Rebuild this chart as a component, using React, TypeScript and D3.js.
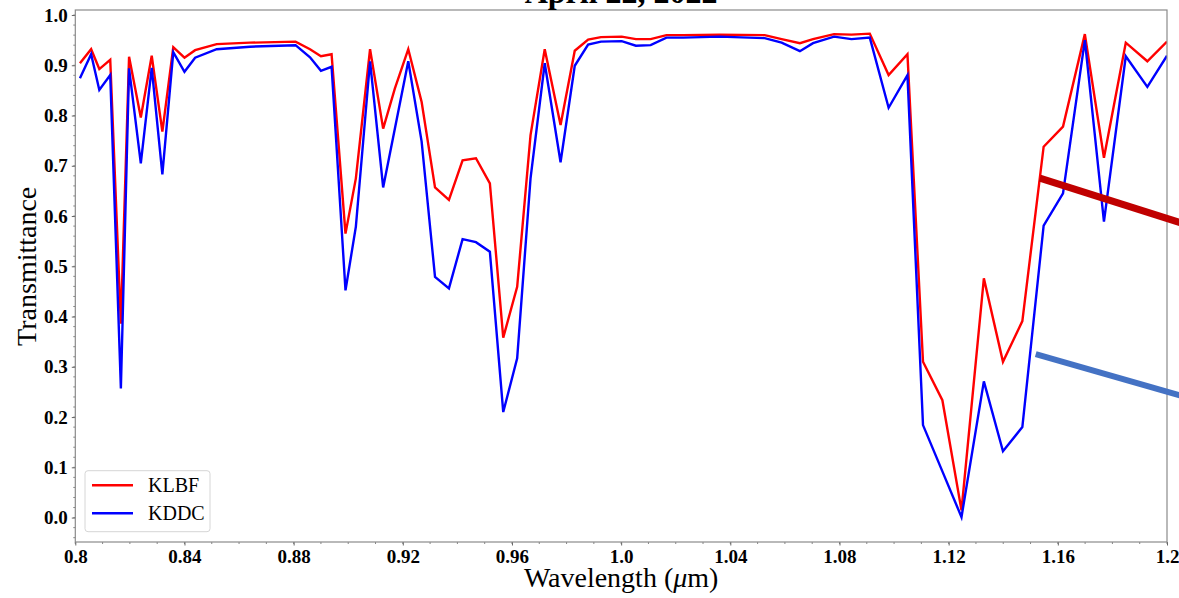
import React, { useRef, useEffect } from 'react';
import * as d3 from 'd3';

const wavelengths = [
  0.8017, 0.8058, 0.8088, 0.8128, 0.8167, 0.8197, 0.824, 0.828, 0.8319, 0.8359,
  0.84, 0.8439, 0.8518, 0.864, 0.8807, 0.886, 0.89, 0.8939, 0.899, 0.9028,
  0.908, 0.9128, 0.9171, 0.922, 0.9269, 0.9318, 0.9369, 0.9419, 0.9468, 0.9519,
  0.9568, 0.9619, 0.9668, 0.972, 0.9778, 0.983, 0.9879, 0.9926, 1.0002, 1.0054,
  1.0108, 1.0166, 1.0227, 1.036, 1.0526, 1.0588, 1.0655, 1.0703, 1.078, 1.0844,
  1.0911, 1.098, 1.1049, 1.1106, 1.1177, 1.1247, 1.1329, 1.1399, 1.147, 1.1548,
  1.1619, 1.1699, 1.1769, 1.1849, 1.1928, 1.2,
];

const klbf = [
  0.904, 0.932, 0.8925, 0.911, 0.386, 0.917, 0.796, 0.919, 0.768, 0.936,
  0.915, 0.93, 0.942, 0.945, 0.947, 0.932, 0.918, 0.922, 0.565, 0.675,
  0.932, 0.774, 0.854, 0.932, 0.827, 0.657, 0.632, 0.711, 0.715, 0.665,
  0.358, 0.459, 0.761, 0.932, 0.781, 0.929, 0.951, 0.956, 0.957, 0.952,
  0.952, 0.96, 0.96, 0.961, 0.96, 0.952, 0.944, 0.952, 0.962, 0.961,
  0.963, 0.8805, 0.922, 0.31, 0.2335, 0.0145, 0.476, 0.31, 0.391, 0.738,
  0.778, 0.962, 0.716, 0.945, 0.908, 0.947,
];

const kddc = [
  0.874, 0.922, 0.851, 0.8805, 0.257, 0.894, 0.705, 0.895, 0.683, 0.926,
  0.887, 0.915, 0.932, 0.937, 0.94, 0.916, 0.889, 0.897, 0.452, 0.579,
  0.908, 0.657, 0.774, 0.908, 0.748, 0.479, 0.456, 0.554, 0.548, 0.529,
  0.21, 0.317, 0.675, 0.904, 0.707, 0.899, 0.941, 0.947, 0.948, 0.939,
  0.94, 0.955, 0.955, 0.957, 0.954, 0.945, 0.928, 0.944, 0.957, 0.952,
  0.955, 0.8155, 0.8805, 0.184, 0.092, 0.001, 0.271, 0.132, 0.18, 0.581,
  0.645, 0.95, 0.589, 0.918, 0.857, 0.919,
];

const seriesNames = ['KLBF', 'KDDC'];
const seriesColors = ['#ff0000', '#0000ff'];

const xTickLabels = ['0.8', '0.84', '0.88', '0.92', '0.96', '1.0', '1.04', '1.08', '1.12', '1.16', '1.2'];
const yTickLabels = ['0.0', '0.1', '0.2', '0.3', '0.4', '0.5', '0.6', '0.7', '0.8', '0.9', '1.0'];

// thick overlay strokes on the right side (start/end in data units)
const overlays = [
  { x1: 1.1534, y1: 0.6755, x2: 1.21, y2: 0.578, color: '#c00000', width: 7 },
  { x1: 1.1519, y1: 0.3254, x2: 1.21, y2: 0.2349, color: '#4472c4', width: 6 },
];

const W = 1179;
const H = 598;
const margin = { top: 10, right: 12, bottom: 56, left: 75.3 };
const FONT = '"Liberation Serif", "Times New Roman", serif';

function App() {
  const svgRef = useRef<SVGSVGElement | null>(null);

  useEffect(() => {
    const svgEl = d3.select(svgRef.current);
    svgEl.selectAll('*').remove();

    const width = W - margin.left - margin.right;
    const height = H - margin.top - margin.bottom;

    const xScale = d3.scaleLinear().domain([0.8, 1.2]).range([0, width]);
    const yScale = d3.scaleLinear().domain([-0.0486, 1.01]).range([height, 0]);

    const svg = svgEl.append('g').attr('transform', `translate(${margin.left},${margin.top})`);

    svg.append('clipPath').attr('id', 'plot-clip')
      .append('rect').attr('width', width).attr('height', height);

    // minor ticks
    const xMinor = d3.range(80, 121).map((v) => v / 100);
    svg.append('g').selectAll('line').data(xMinor).enter().append('line')
      .attr('x1', (d) => xScale(d)).attr('x2', (d) => xScale(d))
      .attr('y1', height).attr('y2', height + 2)
      .attr('stroke', '#666').attr('stroke-width', 0.8);

    const yMinor = d3.range(-2, 51).map((v) => v / 50);
    svg.append('g').selectAll('line').data(yMinor).enter().append('line')
      .attr('y1', (d) => yScale(d)).attr('y2', (d) => yScale(d))
      .attr('x1', 0).attr('x2', -2)
      .attr('stroke', '#666').attr('stroke-width', 0.8);

    // major x axis
    const xAxis = d3.axisBottom(xScale)
      .tickValues(xTickLabels.map(Number))
      .tickSize(3.5)
      .tickPadding(4)
      .tickFormat((d, i) => xTickLabels[i]);
    const xAxisGroup = svg.append('g').attr('transform', `translate(0, ${height})`).call(xAxis);
    xAxisGroup.select('.domain').remove();
    xAxisGroup.selectAll('line').attr('stroke', '#666').attr('stroke-width', 1);
    xAxisGroup.selectAll('text')
      .attr('font-family', FONT).attr('font-size', 19).attr('font-weight', 'bold').attr('fill', '#000');

    const yAxis = d3.axisLeft(yScale)
      .tickValues(yTickLabels.map(Number))
      .tickSize(3.5)
      .tickPadding(4)
      .tickFormat((d, i) => yTickLabels[i]);
    const yAxisGroup = svg.append('g').call(yAxis);
    yAxisGroup.select('.domain').remove();
    yAxisGroup.selectAll('line').attr('stroke', '#666').attr('stroke-width', 1);
    yAxisGroup.selectAll('text')
      .attr('font-family', FONT).attr('font-size', 19).attr('font-weight', 'bold').attr('fill', '#000');

    // series lines
    const line = d3.line<number>()
      .x((d, i) => xScale(wavelengths[i]))
      .y((d) => yScale(d));

    svg.append('g').attr('clip-path', 'url(#plot-clip)')
      .selectAll('path')
      .data([klbf, kddc])
      .enter()
      .append('path')
      .attr('fill', 'none')
      .attr('stroke', (d, i) => seriesColors[i])
      .attr('stroke-width', 2.4)
      .attr('stroke-linejoin', 'miter')
      .attr('d', (d) => line(d));

    // frame
    svg.append('rect')
      .attr('width', width).attr('height', height)
      .attr('fill', 'none').attr('stroke', '#8a8a8a').attr('stroke-width', 1.2);

    // legend
    const lg = svg.append('g').attr('transform', `translate(${85 - margin.left}, ${470.7 - margin.top})`);
    lg.append('rect')
      .attr('width', 125).attr('height', 61).attr('rx', 3)
      .attr('fill', '#fff').attr('fill-opacity', 0.8)
      .attr('stroke', '#d6d6d6').attr('stroke-width', 1);
    seriesNames.forEach((name, i) => {
      const yy = 14.6 + i * 28;
      lg.append('line')
        .attr('x1', 7).attr('x2', 48).attr('y1', yy).attr('y2', yy)
        .attr('stroke', seriesColors[i]).attr('stroke-width', 2.4);
      lg.append('text')
        .attr('x', 63).attr('y', yy).attr('dy', '0.35em')
        .attr('font-family', FONT).attr('font-size', 20).attr('fill', '#000')
        .text(name);
    });

    // overlay strokes
    svg.append('g').selectAll('line').data(overlays).enter().append('line')
      .attr('x1', (d) => xScale(d.x1)).attr('y1', (d) => yScale(d.y1))
      .attr('x2', (d) => xScale(d.x2)).attr('y2', (d) => yScale(d.y2))
      .attr('stroke', (d) => d.color).attr('stroke-width', (d) => d.width);

    // title and labels
    svgEl.append('text')
      .attr('x', margin.left + width / 2).attr('y', 3)
      .attr('text-anchor', 'middle')
      .attr('font-family', FONT).attr('font-size', 32).attr('font-weight', 'bold')
      .text('April 22, 2022');

    const xl = svgEl.append('text')
      .attr('x', margin.left + width / 2).attr('y', 587)
      .attr('text-anchor', 'middle')
      .attr('font-family', FONT).attr('font-size', 28);
    xl.append('tspan').text('Wavelength (');
    xl.append('tspan').attr('font-style', 'italic').text('μ');
    xl.append('tspan').text('m)');

    svgEl.append('text')
      .attr('transform', `translate(36, ${margin.top + yScale(0.5)}) rotate(-90)`)
      .attr('text-anchor', 'middle')
      .attr('font-family', FONT).attr('font-size', 28)
      .text('Transmittance');
  }, []);

  return (
    <svg
      ref={svgRef}
      width={W}
      height={H}
      style={{ position: 'absolute', left: 0, top: 0, background: '#fff' }}
    />
  );
}

export default App;
